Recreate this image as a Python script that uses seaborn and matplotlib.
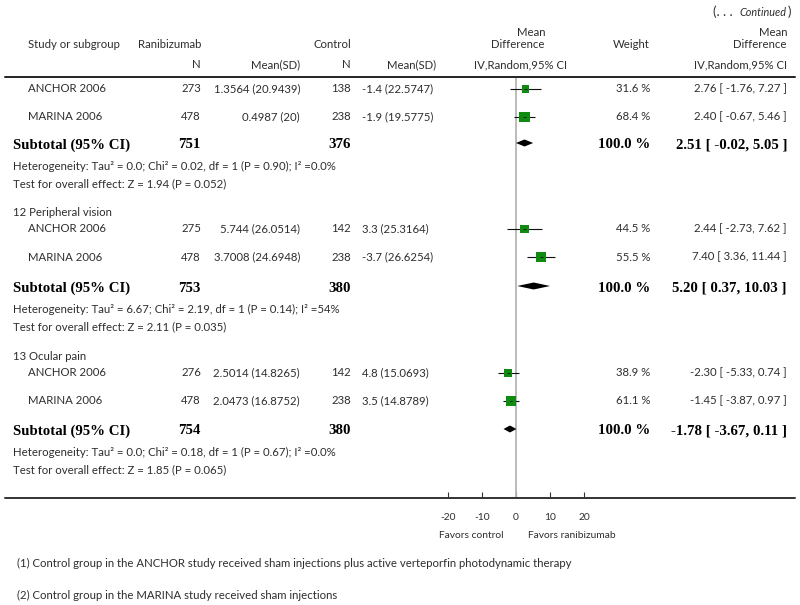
import numpy as np
import pandas as pd
import matplotlib
matplotlib.use("Agg")
import matplotlib.pyplot as plt
from matplotlib.lines import Line2D
import seaborn as sns

# ---------------- data ----------------
group_labels = ["", "12 Peripheral vision", "13 Ocular pain"]
study_names = ["ANCHOR 2006", "MARINA 2006", "ANCHOR 2006", "MARINA 2006", "ANCHOR 2006", "MARINA 2006"]
study_group = [0, 0, 1, 1, 2, 2]
rani_n = [273, 478, 275, 478, 276, 478]
rani_msd = ["1.3564 (20.9439)", "0.4987 (20)", "5.744 (26.0514)", "3.7008 (24.6948)",
            "2.5014 (14.8265)", "2.0473 (16.8752)"]
ctrl_n = [138, 238, 142, 238, 142, 238]
ctrl_msd = ["-1.4 (22.5747)", "-1.9 (19.5775)", "3.3 (25.3164)", "-3.7 (26.6254)",
            "4.8 (15.0693)", "3.5 (14.8789)"]
weights = [31.6, 68.4, 44.5, 55.5, 38.9, 61.1]
md = [2.76, 2.40, 2.44, 7.40, -2.30, -1.45]
ci_lo = [-1.76, -0.67, -2.73, 3.36, -5.33, -3.87]
ci_hi = [7.27, 5.46, 7.62, 11.44, 0.74, 0.97]

sub_rani_n = [751, 753, 754]
sub_ctrl_n = [376, 380, 380]
sub_weight = ["100.0 %", "100.0 %", "100.0 %"]
sub_md = [2.51, 5.20, -1.78]
sub_lo = [-0.02, 0.37, -3.67]
sub_hi = [5.05, 10.03, 0.11]
het_text = ["Heterogeneity: Tau\u00b2 = 0.0; Chi\u00b2 = 0.02, df = 1 (P = 0.90); I\u00b2 =0.0%",
            "Heterogeneity: Tau\u00b2 = 6.67; Chi\u00b2 = 2.19, df = 1 (P = 0.14); I\u00b2 =54%",
            "Heterogeneity: Tau\u00b2 = 0.0; Chi\u00b2 = 0.18, df = 1 (P = 0.67); I\u00b2 =0.0%"]
overall_text = ["Test for overall effect: Z = 1.94 (P = 0.052)",
                "Test for overall effect: Z = 2.11 (P = 0.035)",
                "Test for overall effect: Z = 1.85 (P = 0.065)"]
x_ticks = [-20, -10, 0, 10, 20]
footnotes = ["(1) Control group in the ANCHOR study received sham injections plus active verteporfin photodynamic therapy",
             "(2) Control group in the MARINA study received sham injections"]

# ---------------- layout (pixel rows) ----------------
W, H = 800, 605
study_y = [89, 117, 229, 257, 373, 401]
label_y = [None, 213, 356]
sub_y = [145, 288, 431]
het_y = [166, 309, 452]
test_y = [184, 327, 470]

sns.set_theme(style="white")
plt.rcParams["font.family"] = ["Lato", "DejaVu Sans"]
plt.rcParams["axes.unicode_minus"] = False

TXT = "#2e2e2e"
GREEN = "#118a11"
FS = 8.2
BFS = 10.7
SERIF = ["Liberation Serif", "DejaVu Serif"]

fig = plt.figure(figsize=(W / 100, H / 100), dpi=100)


def T(x, y, s, ha="left", size=FS, bold=False, family=None, color=TXT, style="normal"):
    kw = {}
    if family is not None:
        kw["family"] = family
    fig.text(x / W, 1 - y / H, s, ha=ha, va="center", fontsize=size,
             fontweight="bold" if bold else "normal", color=color, style=style, **kw)


# header
T(733, 12, "(. . .", ha="right", size=9.6)
T(786, 12, "Continued", ha="right", style="italic", size=FS - 0.4)
T(791, 12, ")", ha="right", size=9.6)
T(28, 45, "Study or subgroup")
T(201, 45, "Ranibizumab", ha="right")
T(351, 45, "Control", ha="right")
T(201, 65, "N", ha="right")
T(300, 65, "Mean(SD)", ha="right")
T(351, 65, "N", ha="right")
T(436, 65, "Mean(SD)", ha="right")
T(545, 33, "Mean", ha="right")
T(545, 45, "Difference", ha="right")
T(521, 65, "IV,Random,95% CI", ha="center")
T(650, 45, "Weight", ha="right")
T(787, 33, "Mean", ha="right")
T(787, 45, "Difference", ha="right")
T(787, 65, "IV,Random,95% CI", ha="right")

# study rows
for i in range(len(study_names)):
    y = study_y[i]
    T(28, y, study_names[i])
    T(201, y, str(rani_n[i]), ha="right")
    T(300, y, rani_msd[i], ha="right")
    T(351, y, str(ctrl_n[i]), ha="right")
    T(362, y, ctrl_msd[i])
    T(650, y, f"{weights[i]:.1f} %", ha="right")
    T(787, y, f"{md[i]:.2f} [ {ci_lo[i]:.2f}, {ci_hi[i]:.2f} ]", ha="right")

for g in range(3):
    if label_y[g] is not None:
        T(13, label_y[g], group_labels[g])
    y = sub_y[g]
    T(13, y, "Subtotal (95% CI)", size=BFS, bold=True, family=SERIF, color="black")
    T(201, y, str(sub_rani_n[g]), ha="right", size=BFS, bold=True, family=SERIF, color="black")
    T(351, y, str(sub_ctrl_n[g]), ha="right", size=BFS, bold=True, family=SERIF, color="black")
    T(650, y, sub_weight[g], ha="right", size=BFS, bold=True, family=SERIF, color="black")
    T(787, y, f"{sub_md[g]:.2f} [ {sub_lo[g]:.2f}, {sub_hi[g]:.2f} ]", ha="right",
      size=BFS, bold=True, family=SERIF, color="black")
    T(13, het_y[g], het_text[g])
    T(13, test_y[g], overall_text[g])

T(471, 535, "Favors control", ha="center", size=FS - 0.8)
T(572, 535, "Favors ranibizumab", ha="center", size=FS - 0.8)
T(17, 563, footnotes[0])
T(17, 595, footnotes[1])

# horizontal rules
fig.add_artist(Line2D([5 / W, 795 / W], [1 - 77 / H, 1 - 77 / H], color="#222222", lw=1.4,
                      transform=fig.transFigure))
fig.add_artist(Line2D([5 / W, 795 / W], [1 - 498 / H, 1 - 498 / H], color="#333333", lw=1.4,
                      transform=fig.transFigure))

# ---------------- forest axes ----------------
ax = fig.add_axes([414 / W, 1 - 498 / H, 204 / W, (498 - 77) / H])
ax.set_xlim(-30, 30)
ax.set_ylim(498, 77)
ax.patch.set_alpha(0)
for sp in ax.spines.values():
    sp.set_visible(False)
ax.axvline(0, color="#b5b5b5", lw=1.3, zorder=1)

df = pd.DataFrame({"md": md, "lo": ci_lo, "hi": ci_hi, "w": weights, "y": study_y})
ax.hlines(df["y"], df["lo"], df["hi"], color="#111111", lw=0.8, zorder=2)
sns.scatterplot(data=df, x="md", y="y", size="w", sizes=(0, 90), size_norm=(0, 100),
                marker="s", color=GREEN, linewidth=0, legend=False, ax=ax, zorder=3)
ax.hlines(df["y"], df["md"] - 0.4, df["md"] + 0.4, color="#111111", lw=0.6, zorder=4)

h = 3.5
for g in range(3):
    y = sub_y[g] - 2
    ax.fill([sub_lo[g], sub_md[g], sub_hi[g], sub_md[g]], [y, y - h, y, y + h],
            color="black", lw=0, zorder=3)

ax.set_xticks(x_ticks)
ax.set_xticklabels([str(t) for t in x_ticks])
ax.tick_params(axis="x", direction="in", length=4, width=0.8, color="#333333",
               pad=11, labelsize=FS - 0.8, labelcolor=TXT, bottom=True)
ax.set_yticks([])
ax.set_xlabel("")
ax.set_ylabel("")

fig.savefig("out.png", dpi=100)
